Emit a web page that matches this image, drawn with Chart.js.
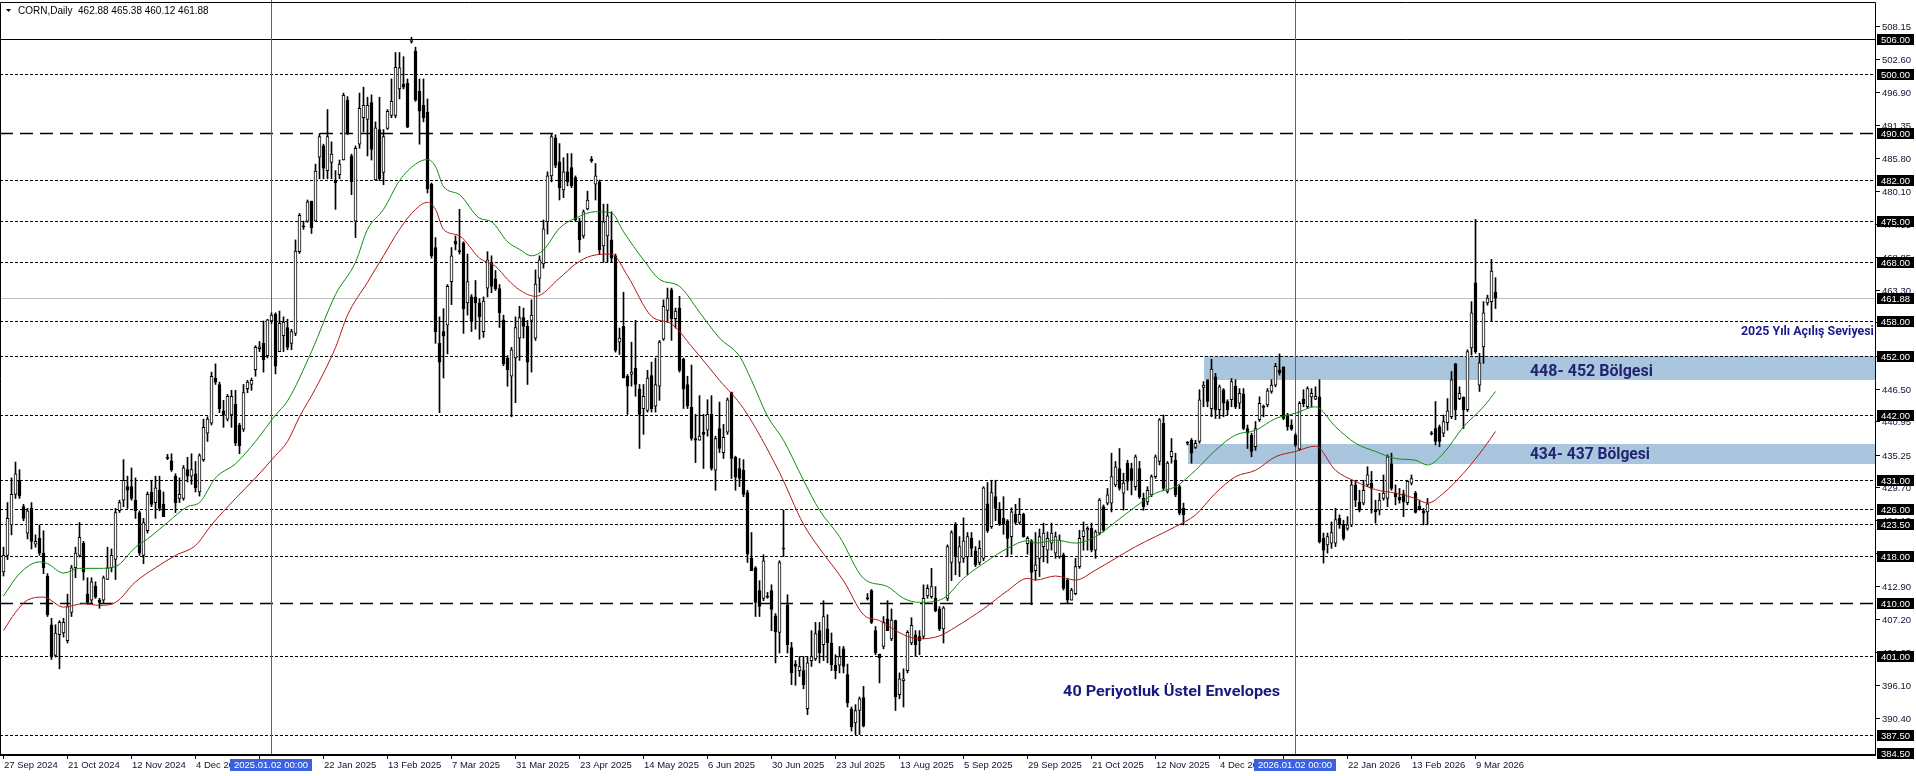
<!DOCTYPE html>
<html>
<head>
<meta charset="utf-8">
<script src="https://cdn.jsdelivr.net/npm/chart.js@4.4.1/dist/chart.umd.min.js"></script>
<style>
html,body{margin:0;padding:0;background:#fff;overflow:hidden}
canvas{display:block}
</style>
</head>
<body>
<canvas id="c" width="1916" height="776"></canvas>
<script>
// ---------------------
// CORN daily candles (bar index 0 = 27 Sep 2024)
// ---------------------
const opens = [
415.3,418.1,423.3,428.5,430.9,426.4,421.9,426.1,420.0,421.0,
418.5,414.6,406.3,401.1,404.6,404.9,403.6,408.4,416.0,418.1,
420.2,411.5,410.5,412.9,410.5,410.5,414.0,416.0,417.4,425.7,
427.5,429.8,429.8,427.5,425.4,418.1,422.3,428.9,427.1,429.2,
426.8,434.8,434.2,431.6,427.8,427.8,432.7,431.6,432.0,428.9,
434.4,438.9,440.6,448.3,447.2,442.7,441.3,442.0,443.8,440.3,
439.6,446.5,447.2,449.7,453.3,454.2,452.1,458.0,459.2,452.8,
455.5,456.9,454.2,455.9,469.8,474.2,475.0,478.4,475.0,485.9,
487.8,483.6,485.0,482.0,482.9,485.4,495.6,486.1,475.0,488.1,
492.6,492.3,495.2,482.0,490.6,483.3,490.8,493.0,493.0,497.5,
498.3,498.5,505.6,503.9,497.1,494.7,493.5,481.3,470.5,454.2,
456.2,457.3,464.7,471.6,469.9,471.3,461.1,462.1,462.1,461.1,
456.2,463.6,468.0,465.2,463.5,458.2,451.7,448.6,451.7,455.1,
458.6,457.1,458.1,455.1,465.3,467.7,474.9,482.7,489.2,485.1,
480.3,483.4,484.1,482.4,474.9,472.5,477.1,485.5,481.3,481.7,
470.8,472.5,471.8,469.1,454.4,457.1,448.6,448.9,450.0,446.4,
443.1,442.8,448.7,443.5,446.9,454.9,459.8,463.3,458.4,460.2,
451.5,447.2,443.3,438.0,437.7,439.1,439.4,442.1,432.6,439.7,
435.6,439.1,445.8,434.8,432.9,432.6,428.8,417.6,416.0,412.1,
410.8,411.1,412.1,407.8,405.0,419.3,409.7,402.4,399.6,398.5,
398.5,392.0,400.2,400.5,405.3,402.9,405.6,403.2,399.4,399.4,
402.2,397.8,392.0,389.6,391.7,393.9,410.8,412.1,405.3,401.3,
402.6,407.3,403.9,407.0,394.4,396.8,398.5,403.2,404.6,404.3,
404.3,411.2,411.1,410.8,409.0,405.6,410.8,416.9,423.4,416.9,
417.6,417.9,421.0,418.9,416.9,417.6,426.9,423.0,428.1,426.0,
424.4,424.0,421.3,425.1,423.7,425.1,420.1,420.6,415.5,417.6,
419.6,419.0,420.2,418.5,417.9,418.2,413.9,410.5,411.6,416.2,
421.3,422.4,422.7,419.0,421.9,426.4,427.0,427.0,430.1,432.9,
428.7,433.8,432.9,429.8,432.9,427.8,427.2,428.4,431.5,434.1,
440.6,429.0,434.9,434.3,429.8,426.1,437.3,437.7,436.5,437.5,
446.7,448.0,443.1,448.5,442.9,446.3,444.3,444.6,446.9,444.0,
445.6,439.7,438.6,436.6,441.2,443.4,443.7,446.0,447.1,449.7,
450.2,442.0,440.3,438.6,436.2,444.7,443.4,445.1,444.7,445.1,
421.0,419.9,420.2,420.2,424.4,423.4,422.7,423.3,430.1,427.2,
427.0,430.1,430.4,425.9,425.8,427.8,427.8,433.7,428.7,428.0,
428.6,427.1,430.4,428.7,426.5,425.7,425.5,438.9,439.7,440.0,
438.9,440.7,441.7,450.7,444.8,445.0,442.9,453.4,464.5,447.1,
453.6,461.1,461.3,462.88
];
const highs = [
419.5,427.1,431.3,434.0,432.7,426.8,426.1,427.1,421.6,423.3,
422.3,415.0,407.4,406.3,407.0,407.4,411.5,416.4,419.5,423.7,
420.5,414.3,414.3,413.6,410.8,414.6,419.5,419.2,426.1,427.5,
434.4,431.6,433.0,431.3,425.7,424.4,428.9,430.9,431.6,431.6,
428.9,435.3,435.4,432.0,431.3,433.4,434.8,435.4,434.1,435.4,
441.3,441.7,449.3,450.7,447.6,444.5,445.5,446.2,446.2,440.6,
447.2,447.9,448.3,453.8,454.5,458.0,458.3,459.4,459.4,459.7,
458.7,458.3,456.6,471.8,476.3,475.0,478.6,478.4,484.7,489.9,
488.1,494.0,488.5,483.6,485.4,496.8,496.2,486.4,487.8,496.8,
497.8,496.1,496.5,491.9,496.1,490.6,494.0,499.2,503.7,503.7,
503.0,499.2,506.3,504.6,499.2,499.2,495.8,481.5,472.2,458.7,
460.1,464.2,470.5,472.5,477.0,471.5,469.4,462.5,464.9,461.8,
462.1,469.8,469.1,466.6,464.2,459.0,452.1,453.5,458.7,460.5,
460.2,458.1,461.6,466.7,469.1,475.2,483.4,489.9,489.7,488.2,
485.8,486.5,486.5,482.7,475.5,476.9,480.1,486.0,484.8,482.0,
477.9,477.9,476.6,469.4,456.8,462.9,448.9,454.4,458.1,447.2,
447.2,449.6,451.0,451.7,454.7,461.6,463.6,463.6,460.2,462.2,
451.7,448.6,450.5,442.1,445.3,442.1,444.6,445.3,438.4,444.2,
440.4,444.9,445.9,435.0,434.6,434.4,429.2,422.0,416.2,413.8,
418.2,411.8,413.1,408.2,417.2,425.8,411.4,403.3,400.2,400.9,
400.9,400.9,405.3,406.7,406.7,410.4,408.0,404.9,401.2,402.6,
402.6,399.6,392.3,392.7,394.0,395.8,411.6,412.3,406.0,401.3,
407.7,410.4,409.0,407.1,398.1,398.8,405.3,407.5,405.3,405.3,
413.1,413.1,415.9,412.8,409.4,409.4,419.9,422.3,423.7,421.3,
424.5,422.0,422.0,419.6,420.6,429.8,430.5,430.9,430.9,427.1,
428.1,424.2,426.2,426.8,427.8,425.3,421.3,420.8,422.0,422.6,
423.6,422.1,423.6,422.1,421.6,418.5,414.2,412.5,417.6,422.4,
423.8,423.0,423.6,422.4,427.8,426.7,429.5,435.5,434.1,436.3,
432.1,434.3,433.8,435.2,434.1,428.7,429.8,431.8,435.2,441.4,
442.0,434.1,438.0,435.5,430.1,427.0,437.5,438.0,437.7,446.3,
447.7,448.0,451.5,449.1,447.1,446.5,444.6,448.2,448.0,446.5,
446.5,440.3,438.9,440.9,445.1,443.7,446.5,448.0,450.8,452.4,
450.2,442.3,441.2,438.9,444.3,446.3,446.8,446.5,446.8,448.0,
421.9,421.9,423.8,426.1,425.0,424.1,424.7,430.9,430.9,429.2,
430.9,433.2,432.4,427.5,428.7,431.8,435.2,435.5,430.1,429.5,
429.2,430.9,431.8,429.0,427.5,426.1,427.8,439.2,444.3,440.3,
442.0,444.8,449.4,450.8,446.8,445.1,453.1,461.3,475.3,452.5,
461.3,462.4,468.5,465.38
];
const lows = [
414.6,417.4,421.6,427.8,427.8,424.0,420.9,419.2,419.5,418.1,
415.0,407.7,400.4,400.8,398.8,404.2,403.2,407.7,414.3,417.8,
413.9,409.8,410.1,410.8,409.1,410.1,414.0,415.3,414.0,425.4,
426.4,426.1,427.5,424.4,418.1,416.7,421.9,426.4,424.4,425.7,
424.7,434.4,432.4,425.4,427.1,427.5,430.6,430.2,428.9,428.2,
434.1,437.5,440.3,447.2,442.4,439.9,441.0,439.9,436.8,435.4,
439.2,445.8,446.2,448.6,452.8,449.3,451.7,457.6,449.0,452.8,
452.8,453.1,453.1,455.5,469.5,473.6,474.8,472.9,475.0,482.2,
482.2,482.2,482.2,477.0,482.2,485.4,489.7,479.5,472.2,487.4,
490.2,486.1,485.4,482.0,481.9,481.2,490.6,492.6,492.6,495.8,
497.5,490.9,505.3,495.4,488.1,491.9,479.8,468.7,454.2,442.4,
448.3,452.4,460.8,470.1,469.4,455.9,459.0,456.2,456.6,454.9,
455.2,462.1,462.8,463.2,456.9,450.4,446.9,441.7,444.1,451.3,
455.1,447.2,449.3,454.7,462.9,467.0,472.8,481.7,484.1,478.6,
479.0,481.0,480.7,474.9,469.7,472.1,476.9,485.0,478.6,469.4,
468.0,468.0,468.0,452.7,452.3,448.3,442.1,446.9,445.2,436.3,
438.7,442.5,442.5,442.5,444.5,454.7,457.8,454.7,456.8,449.3,
443.1,443.1,437.7,433.9,437.7,432.9,438.4,432.6,429.2,435.6,
434.6,438.7,431.2,429.2,429.8,428.1,416.9,415.5,407.7,407.7,
410.4,410.8,405.3,399.8,401.5,417.9,401.5,396.1,396.0,397.5,
395.4,391.0,399.2,400.2,399.8,400.2,399.8,398.5,397.1,398.1,
398.1,392.3,388.2,387.6,387.6,388.9,410.5,406.5,401.2,396.4,
402.2,405.3,403.6,391.7,393.7,392.3,398.1,402.9,400.9,401.2,
403.9,410.8,410.8,408.5,405.3,403.2,410.4,413.8,414.8,414.5,
416.9,414.8,417.9,416.2,416.5,417.2,422.0,422.7,424.0,423.2,
421.7,417.9,418.3,423.5,423.4,421.2,418.3,409.7,413.9,414.5,
417.0,416.8,419.0,417.6,417.6,412.2,410.0,410.5,411.4,415.9,
419.0,419.0,418.7,417.6,421.6,422.1,426.7,425.5,429.8,429.2,
425.8,429.2,428.4,429.2,427.8,425.8,426.7,428.1,431.2,433.5,
429.2,428.7,433.8,428.1,425.0,423.3,436.9,433.8,436.3,437.2,
443.4,443.4,441.7,441.4,441.4,441.7,442.0,443.4,443.1,443.1,
439.5,436.3,434.9,436.0,440.9,441.7,443.4,445.7,446.8,448.8,
441.2,439.4,439.4,436.6,436.0,443.4,443.1,443.4,444.6,420.2,
416.8,418.5,419.3,419.6,422.7,420.7,422.4,423.0,426.4,425.5,
426.7,429.8,425.3,423.6,425.0,427.5,426.4,429.2,426.7,427.0,
424.7,426.7,430.1,425.3,425.8,423.3,423.3,438.6,436.9,436.6,
438.3,439.4,441.4,441.2,444.6,439.7,442.6,452.2,452.5,446.0,
450.8,460.7,457.9,460.12
];
const closes = [
418.1,424.4,428.5,432.0,428.2,424.4,425.7,420.5,420.5,418.5,
416.0,408.0,400.8,404.9,406.7,406.7,409.4,416.0,418.5,421.2,
415.3,410.1,413.6,411.0,410.1,414.3,416.0,418.1,425.4,427.1,
430.9,429.2,427.8,425.7,418.5,423.7,428.5,426.8,429.6,426.1,
424.7,434.6,432.7,427.1,428.5,433.0,431.6,432.7,429.6,435.1,
439.9,441.3,448.6,447.6,443.1,442.0,445.2,445.2,437.2,436.8,
445.8,447.6,447.9,453.5,453.6,451.4,458.2,459.0,450.3,457.6,
457.8,453.5,456.2,469.9,476.0,474.0,478.3,473.9,483.5,489.4,
484.0,489.4,486.4,481.5,484.7,496.4,490.0,481.7,487.4,494.2,
494.7,494.7,487.2,490.9,482.2,489.4,493.7,495.4,501.2,501.1,
497.8,491.0,505.8,495.6,493.7,492.6,480.5,469.1,456.2,451.0,
455.4,463.9,469.1,471.1,469.8,460.1,464.7,458.0,461.1,458.7,
461.4,468.4,463.9,463.5,459.4,450.7,449.7,453.1,456.9,458.6,
457.1,451.0,459.0,464.3,468.4,473.7,482.7,489.4,484.5,480.7,
483.4,481.7,481.0,475.2,471.8,476.6,478.6,485.3,482.7,470.1,
474.9,475.9,468.7,453.0,455.1,448.3,446.9,449.3,447.2,442.1,
445.2,448.3,443.1,447.2,454.4,460.5,461.9,458.4,459.7,449.6,
446.4,443.5,438.0,437.7,438.4,438.7,442.1,432.9,438.0,436.3,
438.2,444.6,434.6,431.4,431.2,428.5,418.3,415.5,410.1,409.4,
417.2,411.0,408.9,405.1,416.9,419.2,402.9,398.1,399.2,399.2,
396.1,399.8,400.9,404.8,401.5,407.7,403.2,399.5,398.5,400.9,
399.2,393.0,388.9,391.7,393.7,389.1,410.7,406.7,401.5,400.7,
406.7,405.3,407.1,394.0,397.1,397.1,405.0,406.2,402.9,403.6,
410.8,412.5,412.8,408.7,405.6,409.2,419.6,422.0,417.9,419.6,
420.6,421.3,419.3,416.5,419.3,429.6,422.3,428.8,426.1,423.4,
423.4,421.0,425.5,423.7,425.1,421.3,421.0,415.2,416.5,421.3,
421.9,421.0,421.9,421.3,420.7,412.5,410.5,412.2,416.2,421.0,
422.3,422.7,419.0,422.1,427.5,422.4,428.4,431.5,433.2,429.5,
430.4,430.7,430.9,434.9,428.1,426.4,429.2,431.5,434.9,441.2,
429.5,433.8,435.8,428.4,425.3,425.0,437.2,435.5,437.2,444.6,
447.1,444.3,449.8,442.9,446.8,444.0,442.9,447.7,443.4,445.7,
439.7,438.9,435.8,439.7,444.0,443.3,446.1,447.1,450.3,449.2,
441.4,440.0,439.6,436.9,444.0,443.9,446.5,445.7,445.2,420.4,
419.0,421.3,422.0,424.2,423.3,421.0,423.3,430.1,427.5,425.8,
429.2,431.8,429.5,425.5,427.5,428.7,434.9,429.5,428.1,427.5,
427.2,430.7,431.2,425.4,425.9,425.3,426.9,438.8,437.5,437.5,
440.9,442.7,448.0,442.9,445.7,442.9,452.8,459.4,452.8,450.9,
459.4,461.9,466.5,461.88
];

// 40 period exponential envelopes at a few bars
const upperEnvIdx = [0,4,9,11,15,19,24,28,33,36,41,46,49,53,58,63,68,71,77,83,88,91,95,99,103,106,108,110,114,119,122,126,129,132,135,139,143,148,152,155,160,164,169,174,179,184,187,191,195,200,204,209,215,221,225,229,235,240,246,251,256,258,263,268,273,278,283,288,293,298,303,308,313,318,323,328,333,338,343,348,353,356,360,365,370,373];
const upperEnv = [411.2,415.0,417.0,416.7,415.1,415.9,415.9,416.2,419.5,420.9,423.7,426.4,427.1,431.3,433.7,437.5,442.0,444.4,452.8,462.5,468.0,473.6,477.0,481.9,484.7,485.5,484.3,480.9,479.5,475.5,474.9,471.5,470.2,469.1,470.1,473.8,475.5,476.6,476.4,473.2,468.4,465.1,463.9,459.5,455.1,452.0,447.9,441.8,437.7,430.9,425.8,421.3,414.2,412.8,410.8,410.1,410.8,414.2,417.2,419.3,420.6,420.2,420.7,420.2,421.3,423.8,426.4,428.7,429.8,432.6,436.0,438.6,439.4,441.4,442.3,443.4,440.0,437.2,435.8,434.6,434.3,433.5,435.5,440.0,443.4,446.0];
const lowerEnvIdx = [0,3,6,10,15,20,24,28,33,38,43,48,52,58,63,68,71,74,78,83,86,91,95,99,103,106,108,110,114,119,123,126,129,133,139,143,147,152,156,162,167,172,179,185,194,200,204,210,215,219,225,229,234,238,245,251,256,258,263,268,273,278,283,288,293,298,303,308,313,318,323,328,333,338,343,348,353,356,360,365,370,373];
const lowerEnv = [405.3,408.4,410.5,411.0,409.3,409.9,409.6,410.1,413.6,416.0,418.1,419.8,423.3,427.8,431.3,435.1,437.5,441.7,446.5,453.5,459.0,464.6,469.1,473.6,477.0,478.2,477.0,473.6,472.5,468.7,467.3,465.1,463.3,462.2,465.3,467.7,469.1,469.4,465.7,458.8,457.5,453.7,447.9,443.1,432.2,423.4,419.3,413.8,408.0,407.0,404.6,403.9,404.4,405.9,409.0,412.1,414.2,413.9,414.6,413.9,415.6,417.6,419.6,421.3,423.0,425.0,428.7,431.5,432.6,434.9,435.8,436.7,432.6,430.7,429.3,428.7,427.8,427.0,428.7,432.1,436.3,439.2];

// time axis
const dateTickIdx = [0,16,32,48,64,80,96,112,128,144,160,176,192,208,224,240,256,272,288,304,320,336,352,368];
const dateTickLabels = ['27 Sep 2024','21 Oct 2024','12 Nov 2024','4 Dec 2024','','22 Jan 2025','13 Feb 2025','7 Mar 2025','31 Mar 2025','23 Apr 2025','14 May 2025','6 Jun 2025','30 Jun 2025','23 Jul 2025','13 Aug 2025','5 Sep 2025','29 Sep 2025','21 Oct 2025','12 Nov 2025','4 Dec 2025','','22 Jan 2026','13 Feb 2026','9 Mar 2026'];
const markerIdx = [67, 323];
const markerLabels = ['2025.01.02 00:00', '2026.01.02 00:00'];

// price axis
const priceTicks = [508.15,502.60,496.90,491.35,485.80,480.10,474.55,468.85,463.30,457.75,452.05,446.50,440.95,435.25,429.70,424.15,418.45,412.90,407.20,401.65,396.10,390.40];
const solidLevels = [506];
const dashedLevels = [490, 410];
const dottedLevels = [500, 482, 475, 468, 458, 452, 442, 431, 426, 423.5, 418, 401, 387.5];
const lastPrice = 461.88;
const boxedPrices = [506, 500, 490, 482, 475, 468, 461.88, 458, 452, 442, 431, 426, 423.5, 418, 410, 401, 387.5, 384.5];

// zones
const zoneLow = [448, 433.7];
const zoneHigh = [452, 437];
const zoneStart = [300, 296];
const zoneLabels = ['448- 452 Bölgesi', '434- 437 Bölgesi'];

// ---------------------
// helpers
// ---------------------
const AXIS_FONT = '9.5px "Liberation Sans", Arial, sans-serif';

function fitText(ctx, text, x, y, font, width, color, align) {
    ctx.save();
    ctx.font = font;
    ctx.fillStyle = color;
    ctx.textBaseline = 'alphabetic';
    const s = width / ctx.measureText(text).width;
    const left = align === 'right' ? x - width : x;
    ctx.translate(left, y);
    ctx.scale(s, 1);
    ctx.textAlign = 'left';
    ctx.fillText(text, 0, 0);
    ctx.restore();
}

function hline(ctx, a, yy, dash, color, w) {
    const p = Math.round(yy) + 0.5;
    ctx.beginPath();
    ctx.setLineDash(dash);
    ctx.strokeStyle = color;
    ctx.lineWidth = w;
    ctx.moveTo(a.left, p);
    ctx.lineTo(a.right, p);
    ctx.stroke();
    ctx.setLineDash([]);
}

const overlay = {
    id: 'overlay',
    beforeDatasetsDraw(chart) {
        const {ctx, chartArea: a, scales: {x, y}} = chart;
        ctx.save();

        // zones
        ctx.fillStyle = 'rgb(169,198,222)';
        zoneLow.forEach((lo, k) => {
            const x0 = Math.round(x.getPixelForValue(zoneStart[k]));
            const y0 = Math.round(y.getPixelForValue(zoneHigh[k]));
            const y1 = Math.round(y.getPixelForValue(lo));
            ctx.fillRect(x0, y0, a.right - x0, y1 - y0);
        });

        // levels
        hline(ctx, a, y.getPixelForValue(lastPrice), [], '#c0c0c0', 1);
        solidLevels.forEach(v => hline(ctx, a, y.getPixelForValue(v), [], '#000', 1));
        dashedLevels.forEach(v => hline(ctx, a, y.getPixelForValue(v), [13, 7], '#000', 1.3));
        dottedLevels.forEach(v => hline(ctx, a, y.getPixelForValue(v), [3, 2], '#000', 1));

        // date markers
        ctx.strokeStyle = '#3a62e0';
        ctx.lineWidth = 1;
        markerIdx.forEach(i => {
            const p = Math.floor(x.getPixelForValue(i)) + 0.5;
            ctx.beginPath();
            ctx.moveTo(p, 0);
            ctx.lineTo(p, a.bottom);
            ctx.stroke();
        });
        ctx.restore();
    },
    afterDatasetsDraw(chart) {
        const {ctx, chartArea: a, scales: {x, y}} = chart;
        ctx.save();

        // annotations
        zoneLabels.forEach((t, k) => {
            const base = k === 0 ? 448.65 : 434.5;
            fitText(ctx, t, x.getPixelForValue(381.6), y.getPixelForValue(base),
                'bold 16px Roboto, "DejaVu Sans", sans-serif', k === 0 ? 123 : 120, '#222470');
        });
        fitText(ctx, '2025 Yılı Açılış Seviyesi', x.getPixelForValue(467.6), y.getPixelForValue(455.6),
            'bold 12.5px Roboto, "DejaVu Sans", sans-serif', 133, '#1a1a8c', 'right');
        fitText(ctx, '40 Periyotluk Üstel Envelopes', x.getPixelForValue(264.9), y.getPixelForValue(394.2),
            'bold 15px Roboto, "DejaVu Sans", sans-serif', 217, '#18187e');

        // frame
        ctx.strokeStyle = '#000';
        ctx.lineWidth = 1;
        ctx.beginPath();
        ctx.moveTo(0.5, a.bottom);
        ctx.lineTo(0.5, a.top + 0.5);
        ctx.lineTo(a.right + 0.5, a.top + 0.5);
        ctx.lineTo(a.right + 0.5, a.bottom + 2);
        ctx.stroke();
        ctx.fillStyle = '#000';
        ctx.fillRect(0, a.bottom, a.right + 1, 2);

        // price axis
        ctx.font = AXIS_FONT;
        ctx.textBaseline = 'middle';
        ctx.textAlign = 'left';
        priceTicks.forEach(v => {
            const p = Math.round(y.getPixelForValue(v));
            ctx.fillStyle = '#000';
            ctx.fillRect(a.right + 1, p, 4, 1);
            ctx.fillStyle = '#101030';
            ctx.fillText(v.toFixed(2), a.right + 7, p + 1);
        });
        boxedPrices.forEach(v => {
            const p = Math.round(y.getPixelForValue(v));
            ctx.fillStyle = '#000';
            ctx.fillRect(a.right + 2, p - 5, 37, 11);
            ctx.fillStyle = '#fff';
            ctx.fillText(v.toFixed(2), a.right + 6, p + 1);
        });

        // time axis
        dateTickIdx.forEach((i, k) => {
            const p = Math.floor(x.getPixelForValue(i));
            ctx.fillStyle = '#000';
            ctx.fillRect(p, a.bottom + 2, 1, 3);
            ctx.fillStyle = '#101030';
            ctx.fillText(dateTickLabels[k], p + 1, a.bottom + 11);
        });
        markerIdx.forEach((i, k) => {
            const p = Math.floor(x.getPixelForValue(i));
            const w = ctx.measureText(markerLabels[k]).width + 8;
            ctx.fillStyle = '#3a62e0';
            ctx.fillRect(Math.round(p - w / 2), a.bottom + 5, Math.round(w), 12);
            ctx.fillStyle = '#fff';
            ctx.fillText(markerLabels[k], Math.round(p - w / 2) + 4, a.bottom + 11);
        });

        // header
        ctx.fillStyle = '#000';
        ctx.beginPath();
        ctx.moveTo(6, 9);
        ctx.lineTo(11, 9);
        ctx.lineTo(8.5, 12);
        ctx.closePath();
        ctx.fill();
        ctx.font = '10px "Liberation Sans", Arial, sans-serif';
        ctx.fillText('CORN,Daily  ' + [opens[opens.length - 1], highs[highs.length - 1], lows[lows.length - 1], closes[closes.length - 1]].map(v => v.toFixed(2)).join(' '), 18, 11);
        ctx.restore();
    }
};

new Chart(document.getElementById('c'), {
    type: 'bar',
    data: {
        datasets: [
            {
                type: 'line',
                label: 'upper',
                data: upperEnvIdx.map((v, k) => ({x: v, y: upperEnv[k]})),
                borderColor: '#118a11',
                borderWidth: 1,
                pointRadius: 0,
                cubicInterpolationMode: 'monotone',
                order: 0
            },
            {
                type: 'line',
                label: 'lower',
                data: lowerEnvIdx.map((v, k) => ({x: v, y: lowerEnv[k]})),
                borderColor: '#b01818',
                borderWidth: 1,
                pointRadius: 0,
                cubicInterpolationMode: 'monotone',
                order: 0
            },
            {
                label: 'body',
                data: opens.map((o, i) => ({x: i, y: [o, closes[i]]})),
                backgroundColor: opens.map((o, i) => closes[i] >= o ? '#fff' : '#000'),
                borderColor: '#000',
                borderWidth: 1,
                borderSkipped: false,
                barThickness: 3,
                minBarLength: 1,
                grouped: false,
                order: 1
            },
            {
                label: 'wick',
                data: lows.map((l, i) => ({x: i, y: [l, highs[i]]})),
                backgroundColor: '#000',
                borderWidth: 0,
                barThickness: 1,
                grouped: false,
                order: 2
            }
        ]
    },
    options: {
        responsive: false,
        animation: false,
        devicePixelRatio: 1,
        layout: {padding: {left: 0, right: 41, top: 2, bottom: 22}},
        plugins: {legend: {display: false}, tooltip: {enabled: false}},
        scales: {
            x: {type: 'linear', min: -0.875, max: 467.875, display: false, offset: false},
            y: {min: 384.3, max: 512.3, display: false}
        }
    },
    plugins: [overlay]
});
</script>
</body>
</html>
